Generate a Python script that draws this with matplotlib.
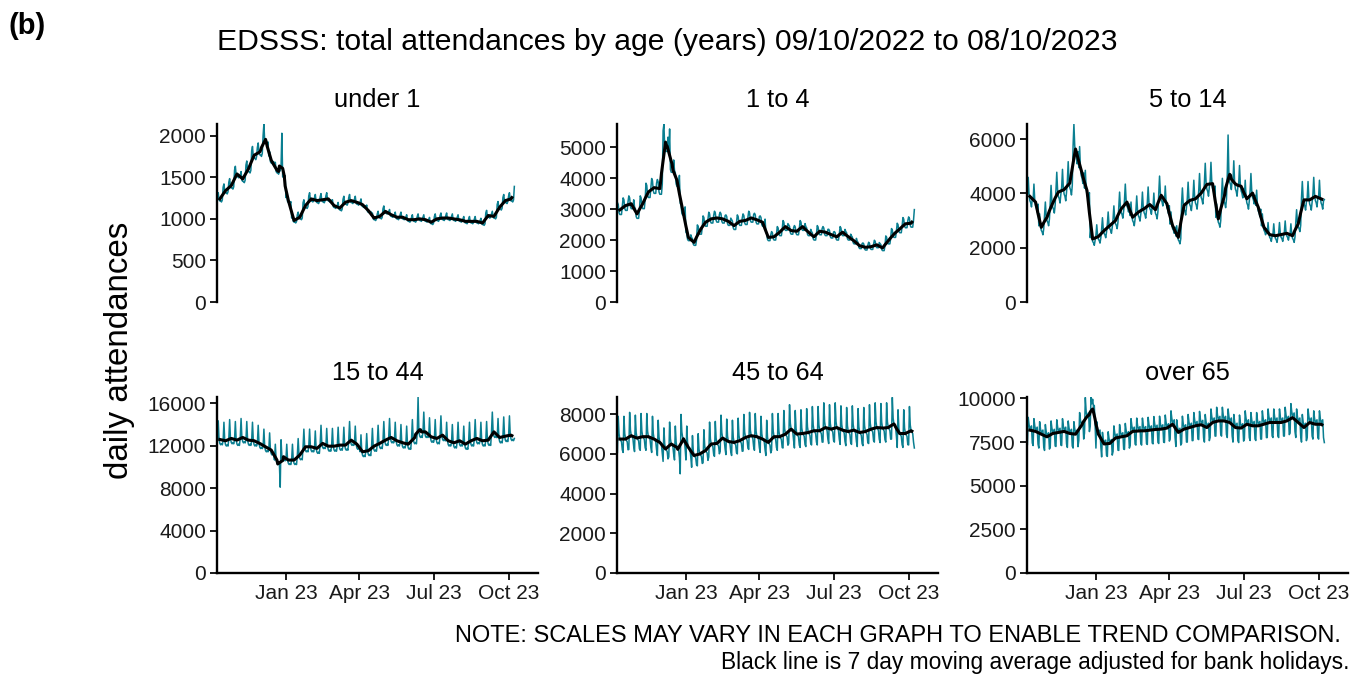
import numpy as np
import pandas as pd
import matplotlib
matplotlib.use("Agg")
import matplotlib.pyplot as plt

plt.rcParams['font.family'] = ['Liberation Sans', 'DejaVu Sans']

start = pd.Timestamp("2022-10-09")
n_days = 365
dates = pd.date_range(start, periods=n_days, freq="D")

panel_titles = ["under 1", "1 to 4", "5 to 14", "15 to 44", "45 to 64", "over 65"]

# weekly mean attendances, weeks starting Sunday 09/10/2022
under1_weekly = [1240, 1340, 1400, 1540, 1480, 1600, 1765, 1805, 1945, 1705,
                 1585, 1535, 1220, 980, 1020, 1160, 1240, 1220, 1230, 1240,
                 1160, 1130, 1200, 1220, 1200, 1170, 1100, 1010, 1030, 1090,
                 1050, 1020, 1020, 990, 990, 1000, 990, 960, 1000, 1010,
                 1010, 1000, 990, 970, 970, 970, 950, 1040, 1030, 1140,
                 1220, 1240, 1300]
age1to4_weekly = [2980, 3120, 3180, 2850, 3180, 3560, 3700, 3670, 5130, 4420,
                  3940, 2960, 2090, 1930, 2310, 2580, 2690, 2720, 2690, 2610,
                  2470, 2610, 2640, 2720, 2660, 2580, 2090, 2110, 2260, 2440,
                  2310, 2290, 2440, 2260, 2110, 2290, 2260, 2180, 2110, 2260,
                  2110, 1980, 1820, 1770, 1790, 1850, 1750, 1980, 2200, 2360,
                  2530, 2550, 2650]
age5to14_weekly = [3890, 3680, 2750, 3120, 3640, 4050, 4140, 4380, 5650, 4850,
                   4110, 2320, 2410, 2630, 2810, 3000, 3430, 3680, 3120, 3310,
                   3430, 3590, 3400, 3930, 3620, 2810, 2380, 3560, 3740, 3800,
                   4010, 4330, 4360, 3060, 3860, 4600, 4330, 4260, 3800, 4010,
                   3490, 2750, 2480, 2440, 2480, 2530, 2440, 2880, 3760, 3760,
                   3890, 3800, 3700]
age15to44_weekly = [12600, 12480, 12700, 12540, 12790, 12540, 12480, 12230, 11910, 11600,
                    10660, 11030, 10660, 10660, 11130, 11910, 11910, 11760, 12230, 11970,
                    11970, 12070, 12070, 12540, 12160, 11440, 11540, 11970, 12230, 12540,
                    12790, 12480, 12290, 12160, 12700, 13320, 13320, 12850, 12700, 13010,
                    12480, 12290, 12480, 12160, 12480, 12700, 12480, 12540, 13320, 12790,
                    12920, 13010, 12700]
age45to64_weekly = [6750, 6750, 6920, 6800, 6870, 6870, 6750, 6580, 6250, 6500,
                    6330, 6830, 6330, 5920, 6000, 6170, 6500, 6530, 6800, 6630,
                    6580, 6670, 6830, 6920, 6870, 6750, 6580, 6870, 6870, 7000,
                    7250, 7000, 7030, 7080, 7170, 7170, 7330, 7250, 7330, 7200,
                    7130, 7200, 7080, 7130, 7250, 7330, 7300, 7330, 7500, 7030,
                    7030, 7170, 7000]
over65_weekly = [8180, 8110, 7950, 7800, 7990, 8050, 8110, 7990, 7950, 8430,
                 8900, 9320, 7950, 7390, 7420, 7730, 7800, 7860, 8110, 8140,
                 8140, 8180, 8220, 8240, 8300, 8520, 8050, 8240, 8330, 8430,
                 8490, 8330, 8620, 8710, 8710, 8620, 8330, 8300, 8520, 8430,
                 8430, 8520, 8620, 8620, 8620, 8710, 8900, 8620, 8330, 8620,
                 8520, 8520, 8300]

# day-of-week factors, Sunday to Saturday
under1_dow = [1.03, 1.06, 0.99, 0.98, 0.98, 0.97, 0.99]
age1to4_dow = [1.08, 1.06, 0.97, 0.95, 0.95, 0.95, 1.04]
age5to14_dow = [1.02, 1.18, 1.02, 0.96, 0.94, 0.90, 0.98]
age15to44_dow = [1.00, 1.14, 1.00, 0.97, 0.96, 0.97, 0.96]
age45to64_dow = [0.90, 1.17, 1.04, 1.00, 0.99, 0.98, 0.92]
over65_dow = [0.90, 1.09, 1.04, 1.01, 1.02, 1.03, 0.91]

# single days that stand out (day index from 09/10/2022, attendances)
under1_spikes = [(57, 2140), (79, 2030), (364, 1390)]
age1to4_spikes = [(57, 5750), (64, 5600), (364, 2990)]
age5to14_spikes = [(57, 6550), (246, 6150), (253, 5200)]
age15to44_spikes = [(246, 16600), (77, 8100)]
age45to64_spikes = [(77, 5000), (337, 8850)]
over65_spikes = [(71, 10050), (80, 9950)]

weekly_all = [under1_weekly, age1to4_weekly, age5to14_weekly,
              age15to44_weekly, age45to64_weekly, over65_weekly]
dow_all = [under1_dow, age1to4_dow, age5to14_dow,
           age15to44_dow, age45to64_dow, over65_dow]
spikes_all = [under1_spikes, age1to4_spikes, age5to14_spikes,
              age15to44_spikes, age45to64_spikes, over65_spikes]

y_tops = [2141, 5760, 6555, 16610, 8870, 10080]
y_ticks = [[0, 500, 1000, 1500, 2000],
           [0, 1000, 2000, 3000, 4000, 5000],
           [0, 2000, 4000, 6000],
           [0, 4000, 8000, 12000, 16000],
           [0, 2000, 4000, 6000, 8000],
           [0, 2500, 5000, 7500, 10000]]
x_ticks = pd.to_datetime(["2023-01-01", "2023-04-01", "2023-07-01", "2023-10-01"])
x_labels = ["Jan 23", "Apr 23", "Jul 23", "Oct 23"]

teal = "#0a7f91"
W, H = 1355, 677
fig = plt.figure(figsize=(W / 100, H / 100), dpi=100)

col_left = [217, 617, 1027]
row_box = [(124, 302), (397, 573)]
pw = 321

for i in range(6):
    r, c = divmod(i, 3)
    top, bot = row_box[r]
    ax = fig.add_axes([col_left[c] / W, 1 - bot / H, pw / W, (bot - top) / H])

    daily = np.repeat(weekly_all[i], 7)[:n_days] * np.tile(dow_all[i], 53)[:n_days]
    for d, v in spikes_all[i]:
        daily[d] = v
    s = pd.Series(daily, index=dates)
    ma = s.rolling(7, center=True).mean()

    ax.plot(s.index, s.values, color=teal, lw=1.1)
    ax.plot(ma.index, ma.values, color="black", lw=2.2)

    ax.set_ylim(0, y_tops[i])
    ax.set_xlim(start - pd.Timedelta(days=0.5), start + pd.Timedelta(days=393))
    ax.set_yticks(y_ticks[i])
    ax.set_yticklabels([str(t) for t in y_ticks[i]])

    for side in ["top", "right"]:
        ax.spines[side].set_visible(False)
    ax.spines["left"].set_linewidth(1.7)
    ax.tick_params(axis="y", length=5, width=1.4, labelsize=15,
                   colors="#1a1a1a", pad=3)
    if r == 0:
        ax.spines["bottom"].set_visible(False)
        ax.set_xticks([])
    else:
        ax.spines["bottom"].set_linewidth(1.7)
        ax.set_xticks(x_ticks)
        ax.set_xticklabels(x_labels)
        ax.tick_params(axis="x", length=5, width=1.4, labelsize=15,
                       colors="#1a1a1a", pad=3)

    fig.text((col_left[c] + pw / 2) / W, 1 - (top - 24) / H, panel_titles[i],
             ha="center", va="center", fontsize=18.3)

fig.text(667 / W, 1 - 42 / H,
         "EDSSS: total attendances by age (years) 09/10/2022 to 08/10/2023",
         ha="center", va="center", fontsize=21.7)
fig.text(8 / W, 1 - 26 / H, "(b)", ha="left", va="center",
         fontsize=21, fontweight="bold")
fig.text(120 / W, 1 - 350 / H, "daily attendances", rotation=90,
         ha="center", va="center", fontsize=23.9)
fig.text(1341 / W, 1 - 636 / H,
         "NOTE: SCALES MAY VARY IN EACH GRAPH TO ENABLE TREND COMPARISON.",
         ha="right", va="center", fontsize=17)
fig.text(1349 / W, 1 - 662 / H,
         "Black line is 7 day moving average adjusted for bank holidays.",
         ha="right", va="center", fontsize=16.4)

plt.savefig("out.png", dpi=100)
